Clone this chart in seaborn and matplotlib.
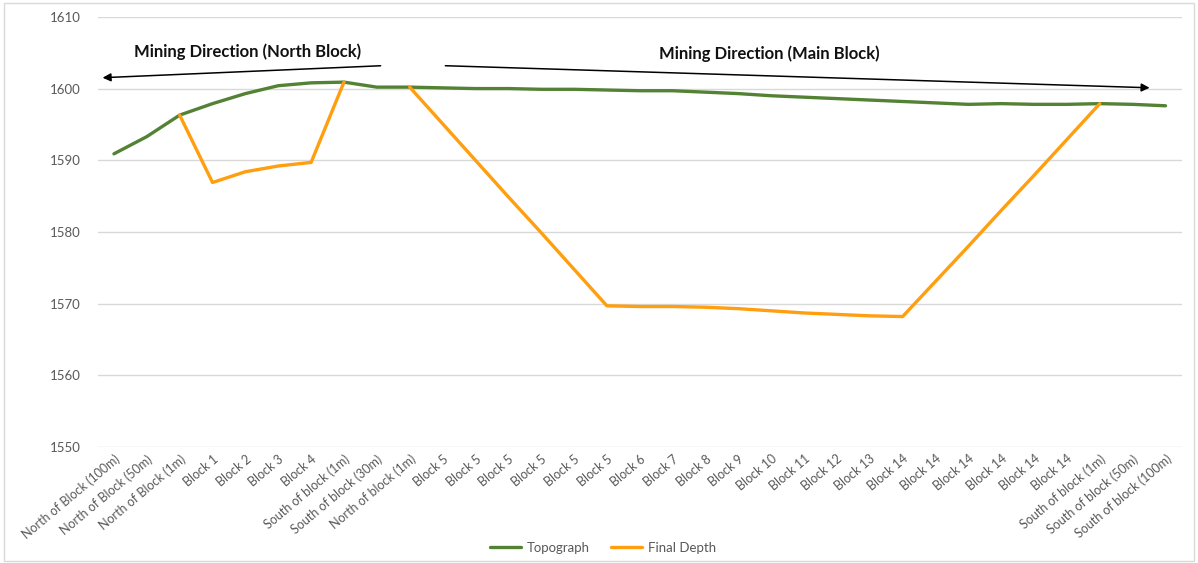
# Topograph vs final pit depth along the mining section
import numpy as np
import pandas as pd
import seaborn as sns
import matplotlib.pyplot as plt
from matplotlib.patches import Rectangle

sections = ["North of Block (100m)", "North of Block (50m)", "North of Block (1m)",
            "Block 1", "Block 2", "Block 3", "Block 4",
            "South of block (1m)", "South of block (30m)", "North of block (1m)",
            "Block 5", "Block 5", "Block 5", "Block 5", "Block 5", "Block 5",
            "Block 6", "Block 7", "Block 8", "Block 9", "Block 10", "Block 11",
            "Block 12", "Block 13",
            "Block 14", "Block 14", "Block 14", "Block 14", "Block 14", "Block 14",
            "South of block (1m)", "South of block (50m)", "South of block (100m)"]

topograph = [1590.9, 1593.3, 1596.3, 1597.9, 1599.3, 1600.4, 1600.8, 1600.9, 1600.2, 1600.2,
             1600.1, 1600.0, 1600.0, 1599.9, 1599.9, 1599.8, 1599.7, 1599.7, 1599.5, 1599.3,
             1599.0, 1598.8, 1598.6, 1598.4, 1598.2, 1598.0, 1597.8, 1597.9, 1597.8, 1597.8,
             1597.9, 1597.8, 1597.6]

final_depth = [None, None, 1596.3, 1586.9, 1588.4, 1589.2, 1589.7, 1600.9, None, 1600.2,
               1595.1, 1590.0, 1584.9, 1579.9, 1574.8, 1569.7, 1569.6, 1569.6, 1569.5, 1569.3,
               1569.0, 1568.7, 1568.5, 1568.3, 1568.2, 1573.1, 1578.0, 1583.0, 1587.9, 1592.9,
               1597.9, None, None]

series_names = ["Topograph", "Final Depth"]
colors = ["#548235", "#FF9E0F"]

# long-form table, missing values split a series into separate segments
rows = []
for name, vals in zip(series_names, [topograph, final_depth]):
    seg = 0
    for i, v in enumerate(vals):
        if v is None:
            seg += 1
            continue
        rows.append({"pos": i, "elev": v, "series": name, "seg": f"{name}-{seg}"})
df = pd.DataFrame(rows)

sns.set_theme(style="white")
plt.rcParams['font.family'] = ['Lato', 'DejaVu Sans']

fig = plt.figure(figsize=(11.98, 5.63), dpi=100)
ax = fig.add_axes([0.0814, 0.206, 0.9052, 0.764])

sns.lineplot(data=df, x="pos", y="elev", hue="series", units="seg", estimator=None,
             palette=dict(zip(series_names, colors)), linewidth=2.4, ax=ax, sort=False)

ax.set_xlim(-0.5, len(sections) - 0.5)
ax.set_ylim(1550, 1610)
ax.set_yticks(np.arange(1550, 1611, 10))
ax.yaxis.grid(True, color="#d9d9d9", linewidth=1)
ax.set_axisbelow(True)
for s in ax.spines.values():
    s.set_visible(False)
ax.set_xlabel("")
ax.set_ylabel("")
ax.set_xticks(range(len(sections)))
ax.set_xticklabels(sections, rotation=40, ha="right", rotation_mode="anchor",
                   fontsize=9, color="#595959")
ax.tick_params(axis="y", labelsize=9.5, labelcolor="#595959", length=0, pad=12)
ax.tick_params(axis="x", length=0, pad=4)

# mining direction arrows
ax.annotate("", xy=(-0.43, 1601.5), xytext=(8.2, 1603.2),
            arrowprops=dict(arrowstyle="-|>", color="black", lw=1.1, mutation_scale=12))
ax.annotate("", xy=(31.6, 1600.1), xytext=(10.0, 1603.2),
            arrowprops=dict(arrowstyle="-|>", color="black", lw=1.1, mutation_scale=12))
ax.text(4.07, 1605.1, "Mining Direction (North Block)", ha="center", va="center",
        fontsize=12, fontweight="bold", color="#111111")
ax.text(19.94, 1604.8, "Mining Direction (Main Block)", ha="center", va="center",
        fontsize=12, fontweight="bold", color="#111111")

handles, labels = ax.get_legend_handles_labels()
ax.legend_.remove()
fig.legend(handles, labels, loc="center", bbox_to_anchor=(0.503, 0.027), ncol=2,
           frameon=False, prop={"size": 9.5}, handlelength=2.4, handletextpad=0.4,
           columnspacing=1.6, labelcolor="#595959")

fig.patches.append(Rectangle((0.003, 0.004), 0.994, 0.99, transform=fig.transFigure,
                             fill=False, edgecolor="#d9d9d9", linewidth=1))

fig.savefig("out.png", dpi=100)
